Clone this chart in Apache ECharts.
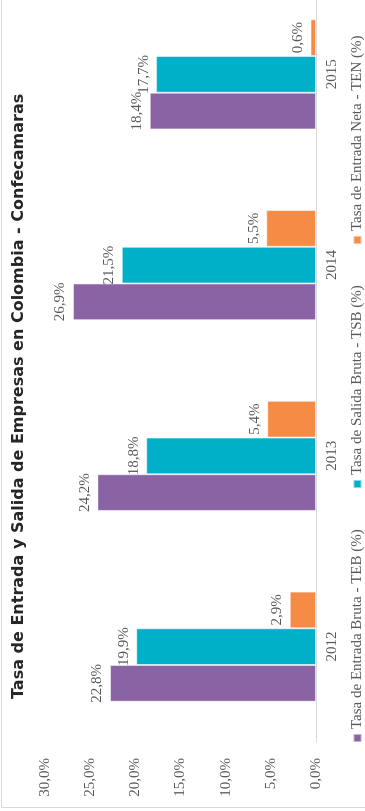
<!DOCTYPE html>
<html>
<head>
<meta charset="utf-8">
<script src="https://cdn.jsdelivr.net/npm/echarts@6/dist/echarts.min.js"></script>
<style>
html,body{margin:0;padding:0;overflow:hidden;background:#fff;width:365px;height:811px;}
#wrap{position:absolute;left:0;top:0;width:811px;height:365px;transform-origin:0 0;transform:translate(0,811px) rotate(-90deg);}
</style>
</head>
<body>
<div id="wrap"></div>
<script>
const categories = ['2012', '2013', '2014', '2015'];
const seriesNames = ['Tasa de Entrada Bruta - TEB (%)', 'Tasa de Salida Bruta - TSB (%)', 'Tasa de Entrada Neta - TEN (%)'];
const teb = [22.8, 24.2, 26.9, 18.4];
const tsb = [19.9, 18.8, 21.5, 17.7];
const ten = [2.9, 5.4, 5.5, 0.6];
const colors = ['#8A63A4', '#00B0C8', '#F68B45'];

const serif = 'Liberation Serif';
const gray = '#595959';
const fmt = v => v.toFixed(1).replace('.', ',') + '%';

const chart = echarts.init(document.getElementById('wrap'), null, {renderer: 'canvas'});
const data = [teb, tsb, ten];
const legendLefts = [68, 322, 566];

chart.setOption({
  animation: false,
  graphic: [{
    type: 'rect', shape: {x: 3.5, y: 1.5, width: 1000, height: 500},
    style: {fill: 'none', stroke: '#d9d9d9', lineWidth: 1}, silent: true
  }],
  title: {
    text: 'Tasa de Entrada y Salida de Empresas en Colombia - Confecamaras',
    left: 112, top: 11, padding: 0,
    textStyle: {fontFamily: 'DejaVu Sans', fontWeight: 'bold', fontSize: 16, color: '#262626'}
  },
  legend: seriesNames.map((n, i) => ({
    data: [n], left: legendLefts[i], top: 350,
    itemWidth: 8, itemHeight: 8, itemGap: 26, icon: 'rect', padding: 0,
    textStyle: {fontFamily: serif, fontSize: 15, color: gray}
  })),
  grid: {left: 69, width: 763, top: 45, height: 271, containLabel: false, outerBoundsMode: 'none'},
  xAxis: {
    type: 'category', data: categories,
    axisLine: {lineStyle: {color: '#d9d9d9'}},
    axisTick: {show: false},
    axisLabel: {fontFamily: serif, fontSize: 15, color: gray, margin: 9}
  },
  yAxis: {
    type: 'value', min: 0, max: 30, interval: 5,
    splitLine: {show: false}, axisLine: {show: false}, axisTick: {show: false},
    axisLabel: {fontFamily: serif, fontSize: 15, color: gray, margin: 16, formatter: v => fmt(v)}
  },
  series: data.map((d, i) => ({
    type: 'bar', name: seriesNames[i], data: d,
    barWidth: 36.7, barGap: '0%',
    itemStyle: {color: colors[i], borderColor: 'rgba(255,255,255,0.5)', borderWidth: 1},
    label: {show: true, position: 'top', distance: 5, fontFamily: serif, fontSize: 15, color: gray,
      formatter: p => fmt(p.value)}
  }))
});
</script>
</body>
</html>
